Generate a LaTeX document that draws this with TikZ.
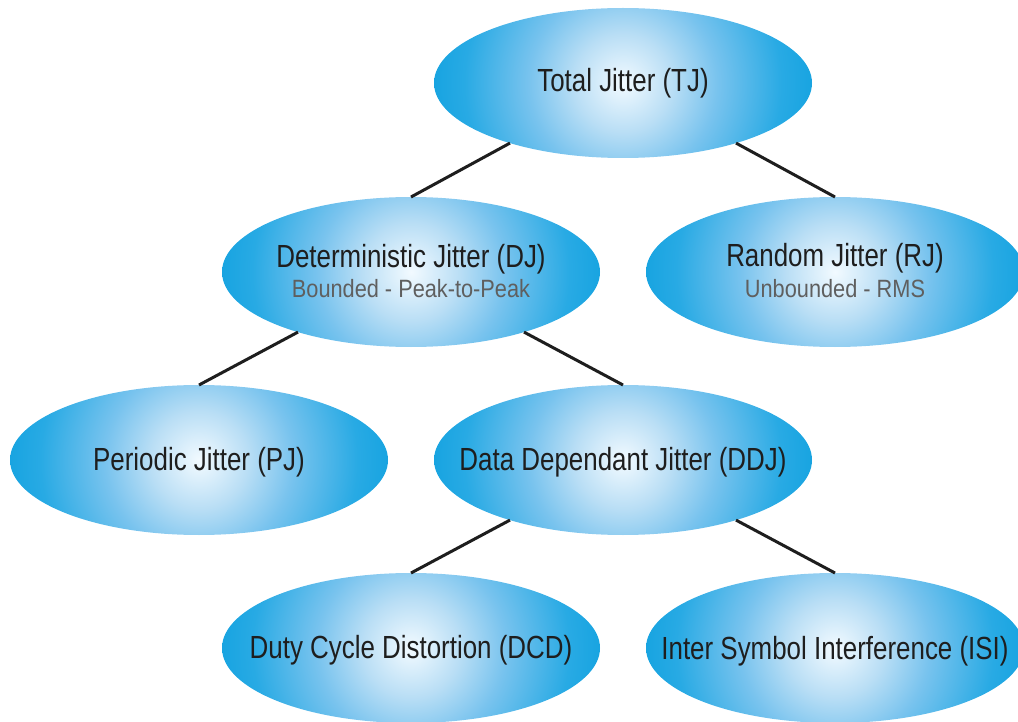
\documentclass[tikz,border=0pt]{standalone}
\usepackage{fontspec}
\newfontfamily\titlefont{Liberation Sans}[FakeStretch=0.81]
\newfontfamily\subfont{Liberation Sans}[FakeStretch=0.87]
\usetikzlibrary{shapes.geometric}
\definecolor{edgeblue}{RGB}{0,155,220}
\definecolor{midblue}{RGB}{40,170,228}
\definecolor{lightblue}{RGB}{120,195,238}
\definecolor{paleblue}{RGB}{185,222,245}
\definecolor{centerwhite}{RGB}{242,250,255}
\definecolor{txt}{RGB}{30,30,30}
\definecolor{subtxt}{RGB}{95,95,95}
\definecolor{linecol}{RGB}{30,30,30}
\pgfdeclareradialshading{bubbleshade}{\pgfpoint{0bp}{0bp}}{%
  color(0bp)=(centerwhite); color(6.5bp)=(paleblue); color(12.5bp)=(lightblue);
  color(21bp)=(midblue); color(31bp)=(edgeblue); color(50bp)=(edgeblue)}
\tikzset{
  bubble/.style={ellipse, minimum width=378pt, minimum height=150pt,
    inner sep=0pt, outer sep=0pt,
    path picture={\shade[shading=bubbleshade] (path picture bounding box.center) circle (189pt);}},
  title/.style={anchor=base, inner sep=0pt, text=txt, font=\titlefont\fontsize{32}{36}\selectfont},
  subtitle/.style={anchor=base, inner sep=0pt, text=subtxt, font=\subfont\fontsize{25}{28}\selectfont},
  link/.style={draw=linecol, line width=3pt}
}
\begin{document}
\begin{tikzpicture}[x=1pt, y=-1pt]
\useasboundingbox (0,0) rectangle (1018,722);
% ellipses
\node[bubble] (TJ)  at (623,83)  {};
\node[bubble] (DJ)  at (411,272) {};
\node[bubble] (RJ)  at (835,272) {};
\node[bubble] (PJ)  at (199,460) {};
\node[bubble] (DDJ) at (623,460) {};
\node[bubble] (DCD) at (411,648) {};
\node[bubble] (ISI) at (835,648) {};
% connectors
\draw[link] (TJ.208)  -- (DJ.north);
\draw[link] (TJ.-28)  -- (RJ.north);
\draw[link] (DJ.208)  -- (PJ.north);
\draw[link] (DJ.-28)  -- (DDJ.north);
\draw[link] (DDJ.208) -- (DCD.north);
\draw[link] (DDJ.-28) -- (ISI.north);
% texts
\node[title] (TJt)  at ([yshift=-9pt]TJ.center)  {Total Jitter (TJ)};
\node[title] (DJt)  at ([yshift=4pt]DJ.center)   {Deterministic Jitter (DJ)};
\node[subtitle] (DJs) at ([yshift=-26pt]DJ.center) {Bounded - Peak-to-Peak};
\node[title] (RJt)  at ([yshift=5pt]RJ.center)   {Random Jitter (RJ)};
\node[subtitle] (RJs) at ([yshift=-26pt]RJ.center) {Unbounded - RMS};
\node[title] (PJt)  at ([yshift=-10pt]PJ.center)  {Periodic Jitter (PJ)};
\node[title] (DDJt) at ([yshift=-10pt]DDJ.center) {Data Dependant Jitter (DDJ)};
\node[title] (DCDt) at ([yshift=-10pt]DCD.center) {Duty Cycle Distortion (DCD)};
\node[title] (ISIt) at ([yshift=-11pt]ISI.center) {Inter Symbol Interference (ISI)};
\end{tikzpicture}
\end{document}
